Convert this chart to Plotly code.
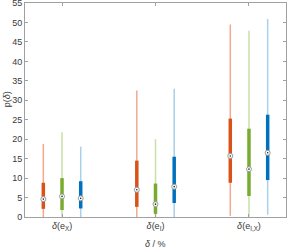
import plotly.graph_objects as go

categories = ["<i>δ</i>(e<sub>X</sub>)", "<i>δ</i>(e<sub>I</sub>)", "<i>δ</i>(e<sub>I,X</sub>)"]
series_names = ["A", "B", "C"]
offsets = [-0.2, 0.0, 0.2]

# per series: lists over categories
whisker_lo = {"A": [0.0, 0.0, 0.3], "B": [0.0, 0.0, 0.1], "C": [0.0, 0.0, 0.6]}
q1 = {"A": [2.1, 2.6, 8.8], "B": [1.8, 0.8, 5.4], "C": [2.2, 3.6, 9.5]}
median = {"A": [4.6, 7.0, 15.7], "B": [5.3, 3.3, 12.3], "C": [4.8, 7.8, 16.5]}
q3 = {"A": [8.8, 14.5, 25.3], "B": [10.0, 8.6, 22.7], "C": [9.2, 15.5, 26.3]}
whisker_hi = {"A": [18.8, 32.5, 49.5], "B": [21.8, 20.0, 47.9], "C": [18.1, 33.0, 50.9]}

box_colors = {"A": "#D95319", "B": "#77AC30", "C": "#0072BD"}
whisk_colors = {"A": "#F0AA8C", "B": "#C8DFA8", "C": "#A9D0EC"}

fig = go.Figure()
for si, s in enumerate(series_names):
    for ci in range(len(categories)):
        x = ci + 1 + offsets[si]
        fig.add_trace(go.Scatter(x=[x, x], y=[whisker_lo[s][ci], whisker_hi[s][ci]],
                                 mode="lines", line=dict(color=whisk_colors[s], width=1.5),
                                 showlegend=False, hoverinfo="skip"))
        fig.add_trace(go.Scatter(x=[x, x], y=[q1[s][ci], q3[s][ci]],
                                 mode="lines", line=dict(color=box_colors[s], width=3.5),
                                 showlegend=False, hoverinfo="skip"))
        fig.add_trace(go.Scatter(x=[x], y=[median[s][ci]], mode="markers",
                                 marker=dict(symbol="circle", size=5, color="white",
                                             line=dict(color="#9a9a9a", width=1)),
                                 showlegend=False, hoverinfo="skip"))
        fig.add_trace(go.Scatter(x=[x], y=[median[s][ci]], mode="markers",
                                 marker=dict(symbol="circle", size=1.6, color="#222222"),
                                 showlegend=False, hoverinfo="skip"))

FONT = "Liberation Sans, Arial, sans-serif"
txt = "#3a3a3a"
fig.update_layout(
    width=287, height=249,
    margin=dict(l=25, r=1, t=3, b=32, autoexpand=False),
    paper_bgcolor="white", plot_bgcolor="white",
    font=dict(family=FONT, size=9, color=txt),
    xaxis=dict(range=[0.604, 3.396], tickvals=[1, 2, 3], ticktext=categories,
               automargin=False,
               showgrid=False, zeroline=False, showline=True, linecolor="#a0a0a0",
               linewidth=1, mirror="ticks", ticks="inside", ticklen=3, tickcolor="#a0a0a0",
               tickfont=dict(family=FONT, size=9, color=txt)),
    yaxis=dict(range=[0, 55.02], tickvals=list(range(0, 56, 5)),
               automargin=False, ticklabeloverflow="allow",
               showgrid=False, zeroline=False, showline=True, linecolor="#a0a0a0",
               linewidth=1, mirror="ticks", ticks="inside", ticklen=3, tickcolor="#a0a0a0",
               tickfont=dict(family=FONT, size=9, color=txt)),
    annotations=[
        dict(text="<i>δ</i> / %", xref="paper", yref="paper", x=0.5, y=0,
             yshift=-27, xanchor="center", yanchor="middle", showarrow=False,
             font=dict(family=FONT, size=9, color=txt)),
        dict(text="p(<i>δ</i>)", xref="paper", yref="paper", x=0, y=0.55,
             xshift=-18, xanchor="center", yanchor="middle", textangle=-90, showarrow=False,
             font=dict(family=FONT, size=9, color=txt)),
    ],
)
fig.write_html("out.html", config={"displayModeBar": False},
               post_script="document.body.style.margin='0';document.body.style.padding='0';")
